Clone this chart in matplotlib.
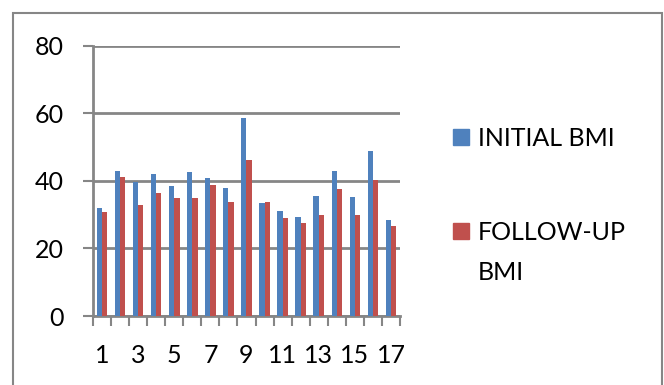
import numpy as np
import matplotlib
matplotlib.use('Agg')
from matplotlib import pyplot as plt
from matplotlib.patches import Rectangle

patients = list(range(1, 18))
initial_bmi = [31.9, 42.9, 39.7, 42.0, 38.5, 42.5, 40.8, 37.9, 58.5,
               33.3, 31.0, 29.3, 35.5, 42.9, 35.3, 48.9, 28.3]
followup_bmi = [30.7, 41.0, 32.8, 36.5, 35.0, 35.0, 38.9, 33.6, 46.2,
                33.8, 29.0, 27.4, 29.8, 37.5, 29.8, 40.2, 26.6]
series_names = ['INITIAL BMI', 'FOLLOW-UP\nBMI']
yticks = [0, 20, 40, 60, 80]

blue = '#4F81BD'
red = '#C0504D'
grey = '#868686'

plt.rcParams['font.family'] = ['Lato', 'DejaVu Sans']

W, H = 664, 385
fig = plt.figure(figsize=(W / 100, H / 100), dpi=100)
ax = fig.add_axes([93 / W, 1 - 316 / H, 307 / W, (316 - 45.7) / H])

x = np.array(patients)
w = 0.29
ax.bar(x - w / 2, initial_bmi, w, color=blue, zorder=3)
ax.bar(x + w / 2, followup_bmi, w, color=red, zorder=3)

ax.set_xlim(0.5, 17.5)
ax.set_ylim(0, 80)
ax.set_yticks(yticks)
ax.yaxis.grid(True, color=grey, linewidth=2, zorder=0)
ax.set_axisbelow(True)

# labels on odd patients, tick marks between categories
ax.set_xticks(patients[::2])
ax.set_xticks(np.arange(0.5, 18, 1), minor=True)
ax.tick_params(axis='x', which='major', length=0, pad=20, labelsize=18)
ax.tick_params(axis='x', which='minor', length=7.2, width=1.5, color=grey)
ax.tick_params(axis='y', length=7.2, width=1.5, color=grey, pad=14, labelsize=18)

for side in ['top', 'right']:
    ax.spines[side].set_visible(False)
ax.spines['left'].set_color(grey)
ax.spines['left'].set_linewidth(2)
ax.spines['bottom'].set_color(grey)
ax.spines['bottom'].set_linewidth(2)

# legend drawn by hand so the square sits on the first text line
for col, name, ytop in [(blue, series_names[0], 129), (red, series_names[1], 223)]:
    fig.patches.append(Rectangle((453 / W, 1 - (ytop + 16) / H), 16 / W, 16 / H,
                                 transform=fig.transFigure, color=col))
    fig.text(478 / W, 1 - (ytop - 2) / H, name, fontsize=18, va='top',
             ha='left', linespacing=1.9)

# outer chart border
fig.patches.append(Rectangle((13 / W, -0.02), (662 - 13) / W, 1.02 - 13 / H,
                             transform=fig.transFigure, fill=False,
                             edgecolor=grey, linewidth=1.5))

fig.savefig('out.png', dpi=100)
